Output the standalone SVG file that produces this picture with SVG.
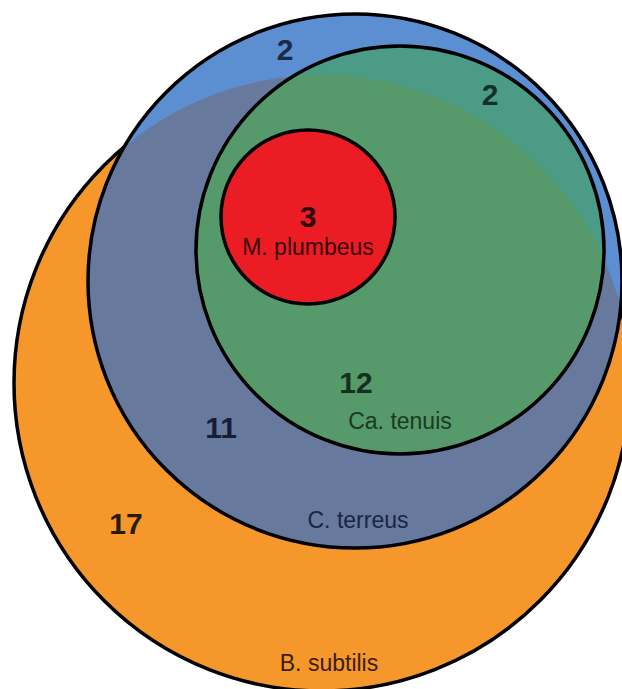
<svg xmlns="http://www.w3.org/2000/svg" width="622" height="689" viewBox="0 0 622 689">
<style>
.edge{fill:none;stroke:#000;stroke-width:3.5}
.num{font-family:"Liberation Sans",Arial,sans-serif;font-weight:bold;font-size:30px;text-anchor:middle}
.lab{font-family:"Liberation Sans",Arial,sans-serif;font-size:23px;text-anchor:middle}
</style>
<defs>
<clipPath id="clipOrange"><circle cx="322" cy="383" r="308"/></clipPath>
</defs>
<rect width="622" height="689" fill="#ffffff"/>
<g id="b-subtilis">
<circle cx="322" cy="383" r="308" fill="#f5972a"/>
<circle class="edge" cx="322" cy="383" r="308"/>
<text class="num" x="126" y="534" fill="#2a1a0a">17</text>
<text class="lab" x="329" y="671" fill="#3a200e">B. subtilis</text>
</g>
<g id="c-terreus">
<circle cx="355" cy="281" r="267" fill="#5b8fd1"/>
<circle cx="355" cy="281" r="267" fill="#67799c" clip-path="url(#clipOrange)"/>
<circle class="edge" cx="355" cy="281" r="267"/>
<text class="num" x="285" y="60" fill="#1a2a4a">2</text>
<text class="num" x="221" y="438" fill="#151d38">11</text>
<text class="lab" x="358" y="528" fill="#1a2545">C. terreus</text>
</g>
<g id="ca-tenuis">
<circle cx="400" cy="250" r="204" fill="#4c9b86"/>
<circle cx="400" cy="250" r="204" fill="#56996b" clip-path="url(#clipOrange)"/>
<circle class="edge" cx="400" cy="250" r="204"/>
<text class="num" x="490" y="105" fill="#15302a">2</text>
<text class="num" x="356" y="393" fill="#15301c">12</text>
<text class="lab" x="400" y="429" fill="#1a3a22">Ca. tenuis</text>
</g>
<g id="m-plumbeus">
<circle cx="308" cy="217" r="87" fill="#ec1c24"/>
<circle class="edge" cx="308" cy="217" r="87"/>
<text class="num" x="308" y="227" fill="#2a0a0a">3</text>
<text class="lab" x="308" y="255" fill="#3a0a0a">M. plumbeus</text>
</g>
<g id="connectors"/>
</svg>
